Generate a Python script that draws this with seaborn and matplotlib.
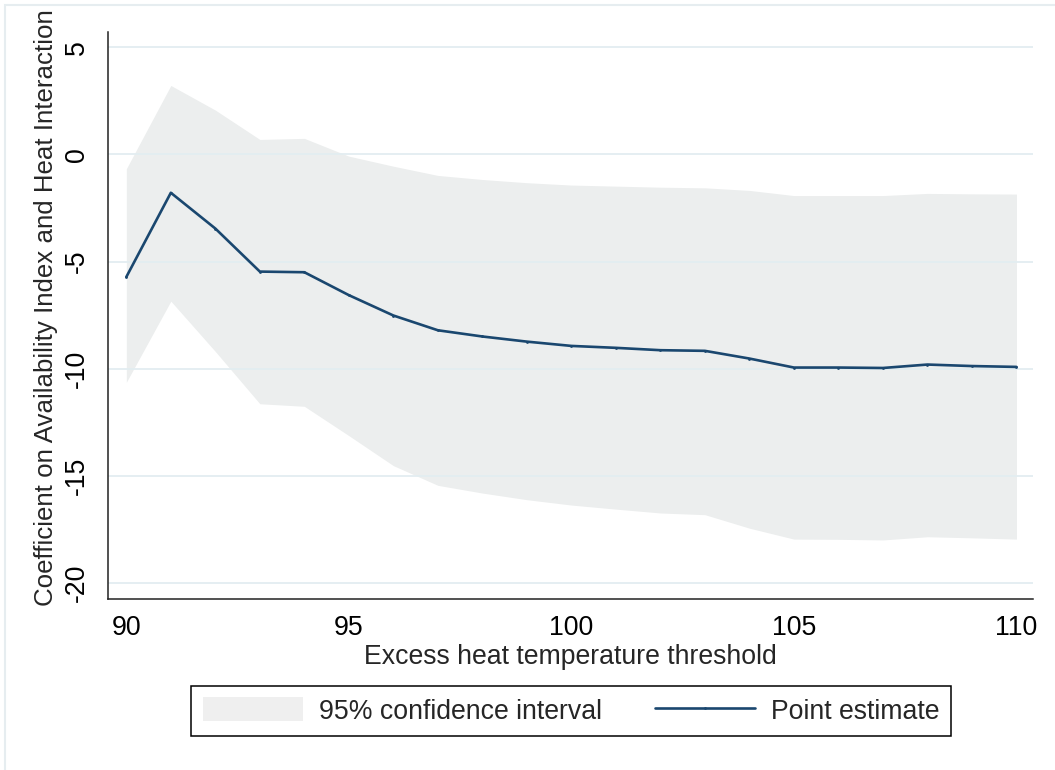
import matplotlib
matplotlib.use("Agg")
import matplotlib.pyplot as plt
from matplotlib.patches import Rectangle, Patch
from matplotlib.lines import Line2D
import seaborn as sns
import pandas as pd

# ---- data ----
thresholds = [90, 91, 92, 93, 94, 95, 96, 97, 98, 99, 100,
              101, 102, 103, 104, 105, 106, 107, 108, 109, 110]
estimate = [-5.72, -1.79, -3.46, -5.47, -5.50, -6.57, -7.52, -8.21, -8.50, -8.74, -8.94,
            -9.03, -9.14, -9.17, -9.53, -9.95, -9.95, -9.97, -9.81, -9.88, -9.92]
ci_upper = [-0.67, 3.22, 2.07, 0.70, 0.75, -0.08, -0.55, -0.98, -1.17, -1.32, -1.43,
            -1.48, -1.53, -1.56, -1.68, -1.92, -1.92, -1.92, -1.82, -1.84, -1.85]
ci_lower = [-10.64, -6.85, -9.20, -11.64, -11.76, -13.13, -14.53, -15.45, -15.81, -16.12, -16.37,
            -16.56, -16.74, -16.82, -17.45, -17.96, -17.97, -18.00, -17.85, -17.90, -17.96]
x_ticks = [90, 95, 100, 105, 110]
y_ticks = [-20, -15, -10, -5, 0, 5]
x_label = "Excess heat temperature threshold"
y_label = "Coefficient on Availability Index and Heat Interaction"
legend_labels = ["95% confidence interval", "Point estimate"]

df = pd.DataFrame({"threshold": thresholds, "estimate": estimate,
                   "lo": ci_lower, "hi": ci_upper})

sns.set_style("white")
plt.rcParams["font.family"] = ["Liberation Sans", "DejaVu Sans"]
plt.rcParams["axes.unicode_minus"] = False

LINE = "#1a476f"
FILL = "#eceeee"
GRID = "#e3edf1"
FS = 19.2

fig = plt.figure(figsize=(10.55, 7.7), dpi=100)
ax = fig.add_axes([108.3 / 1055, 1 - 599.3 / 770, (1033.3 - 108.3) / 1055, (599.3 - 31.7) / 770])

ax.fill_between(df["threshold"], df["lo"], df["hi"], color=FILL, linewidth=0, zorder=0.2)
sns.lineplot(data=df, x="threshold", y="estimate", ax=ax, color=LINE, linewidth=1.9,
             marker="o", markersize=2, markeredgewidth=0, zorder=3)

ax.set_xlim(89.595, 110.378)
ax.set_ylim(-20.77, 5.73)
ax.set_xticks(x_ticks)
ax.set_yticks(y_ticks)
ax.set_xticklabels([str(t) for t in x_ticks], fontsize=FS)
ax.set_yticklabels([str(t) for t in y_ticks], fontsize=FS, rotation=90, va="center")

ax.set_axisbelow(True)
ax.yaxis.grid(True, color=GRID, linewidth=1.3)
ax.xaxis.grid(False)

for side in ["top", "right"]:
    ax.spines[side].set_visible(False)
for side in ["left", "bottom"]:
    ax.spines[side].set_color("#222222")
    ax.spines[side].set_linewidth(1.1)

ax.tick_params(axis="both", direction="out", length=6.5, width=0.9, color="#333333",
               labelcolor="black")
ax.tick_params(axis="y", pad=7)
ax.tick_params(axis="x", pad=5)

ax.set_xlabel(x_label, fontsize=FS, labelpad=2)
ax.set_ylabel(y_label, fontsize=18.6)
ax.yaxis.set_label_coords((58 - 108.3) / 925, (599.3 - 308) / 567.6)

handles = [Patch(facecolor="#efefef", edgecolor="none"),
           Line2D([], [], color=LINE, linewidth=1.9, marker="o", markersize=2, markeredgewidth=0)]
leg = fig.legend(handles, legend_labels, loc="center", bbox_to_anchor=(571 / 1055, 1 - 711 / 770),
                 ncol=2, fontsize=FS, frameon=True, fancybox=False, shadow=False,
                 handlelength=3.75, handleheight=1.0, handletextpad=0.6, columnspacing=2.0,
                 borderpad=0.42, borderaxespad=0)
leg.get_frame().set_edgecolor("black")
leg.get_frame().set_linewidth(1.1)
leg.get_frame().set_alpha(1)

# light outer frame of the graph region
fig.patches.append(Rectangle((5 / 1055, -0.05), 1.1, (1 - 5 / 770) + 0.05, transform=fig.transFigure,
                             fill=False, edgecolor="#e6edf0", linewidth=1.5, zorder=-1))

fig.savefig("out.png", dpi=100)
